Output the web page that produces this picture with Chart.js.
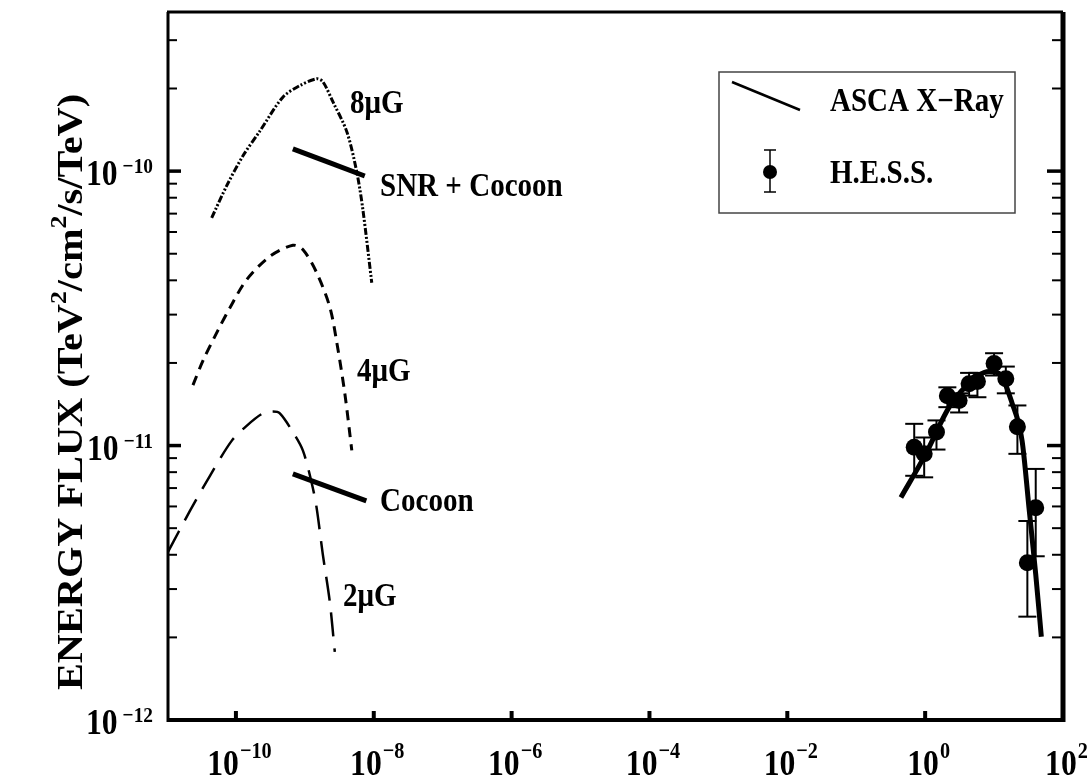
<!DOCTYPE html>
<html>
<head>
<meta charset="utf-8">
<script src="https://cdn.jsdelivr.net/npm/chart.js@4.4.1/dist/chart.umd.min.js"></script>
<style>
    html, body { margin: 0; padding: 0; background: #fff; }
</style>
</head>
<body>
<canvas id="chart-energy-flux" width="1091" height="780"></canvas>
<script>
// synchrotron model curves, energy in TeV, flux in TeV^2/cm^2/s/TeV
const mu8X = [4.45e-11, 7.33e-11, 1.26e-10, 2.23e-10, 4.8e-10, 8.47e-10, 1.48e-9, 1.82e-9, 2.55e-9, 4.07e-9, 5.68e-9, 6.94e-9, 9.35e-9];
const mu8Y = [6.76e-11, 8.83e-11, 1.135e-10, 1.4e-10, 1.86e-10, 2.05e-10, 2.17e-10, 2.12e-10, 1.79e-10, 1.39e-10, 9.9e-11, 7.26e-11, 3.92e-11];

const mu4X = [2.38e-11, 3.36e-11, 5.53e-11, 8.19e-11, 1.43e-10, 3.11e-10, 6.7e-10, 9.35e-10, 1.48e-9, 2.3e-9, 2.91e-9, 3.8e-9, 4.8e-9];
const mu4Y = [1.66e-11, 2.05e-11, 2.64e-11, 3.18e-11, 4.02e-11, 4.89e-11, 5.37e-11, 5.18e-11, 4.27e-11, 3.2e-11, 2.37e-11, 1.55e-11, 9.6e-12];

const mu2X = [1.03e-11, 2.15e-11, 4.2e-11, 8.67e-11, 1.43e-10, 2.46e-10, 3.44e-10, 4.34e-10, 6.7e-10, 9.35e-10, 1.25e-9, 1.48e-9, 1.82e-9, 2.3e-9, 2.72e-9];
const mu2Y = [4.09e-12, 5.78e-12, 7.76e-12, 1.04e-11, 1.18e-11, 1.31e-11, 1.33e-11, 1.31e-11, 1.12e-11, 9.6e-12, 7.35e-12, 5.94e-12, 4.02e-12, 2.7e-12, 1.77e-12];

// ASCA X-ray spectra
const snrCocoonX = [6.7e-10, 7.4e-9];
const snrCocoonY = [1.205e-10, 9.6e-11];
const cocoonX = [6.7e-10, 7.8e-9];
const cocoonY = [7.88e-12, 6.29e-12];

// H.E.S.S. points and fit
const hessX = [0.694, 0.968, 1.46, 2.10, 3.11, 4.34, 5.73, 10.0, 14.8, 21.8, 30.4, 40.2];
const hessY = [9.86e-12, 9.33e-12, 1.12e-11, 1.52e-11, 1.46e-11, 1.68e-11, 1.71e-11, 1.99e-11, 1.75e-11, 1.17e-11, 3.74e-12, 5.94e-12];
const hessLo = [7.76e-12, 7.66e-12, 9.67e-12, 1.38e-11, 1.32e-11, 1.52e-11, 1.5e-11, 1.8e-11, 1.55e-11, 9.33e-12, 2.38e-12, 3.95e-12];
const hessHi = [1.2e-11, 1.07e-11, 1.235e-11, 1.63e-11, 1.55e-11, 1.84e-11, 1.84e-11, 2.17e-11, 1.94e-11, 1.4e-11, 5.31e-12, 8.22e-12];

const fitX = [0.445, 1.02, 2.23, 3.89, 8.47, 11.8, 18.2, 25.5, 32.1, 40.2, 48.5];
const fitY = [6.47e-12, 9.33e-12, 1.38e-11, 1.64e-11, 1.86e-11, 1.83e-11, 1.43e-11, 1.04e-11, 5.94e-12, 3.4e-12, 2.01e-12];

// axes
const xTickExps = [-10, -8, -6, -4, -2, 0, 2];
const yTickExps = [-12, -11, -10];
const yMinor = [2, 3, 4, 5, 6, 7, 8, 9];

const SERIF = "'Liberation Serif', 'DejaVu Serif', serif";
const SQUEEZE = 0.88;

const toPoints = (xs, ys) => xs.map((x, i) => ({x: x, y: ys[i]}));

function measure(ctx, text, size) {
    ctx.font = 'bold ' + size + 'px ' + SERIF;
    return ctx.measureText(text).width * SQUEEZE;
}

function squeezed(ctx, text, left, baseline, size) {
    ctx.save();
    ctx.font = 'bold ' + size + 'px ' + SERIF;
    ctx.textAlign = 'left';
    ctx.textBaseline = 'alphabetic';
    ctx.translate(left, baseline);
    ctx.scale(SQUEEZE, 1);
    ctx.fillText(text, 0, 0);
    ctx.restore();
}

function line(ctx, x1, y1, x2, y2, w) {
    ctx.lineWidth = w;
    ctx.beginPath();
    ctx.moveTo(x1, y1);
    ctx.lineTo(x2, y2);
    ctx.stroke();
}

const supText = (e) => (e < 0 ? '\u2212' + (-e) : String(e));

const decorations = {
    id: 'decorations',
    beforeDatasetsDraw(chart) {
        const {ctx, scales: {x, y}} = chart;
        ctx.save();
        ctx.strokeStyle = '#000';
        hessX.forEach((v, i) => {
            let px = x.getPixelForValue(v);
            let top = y.getPixelForValue(hessHi[i]);
            let bot = y.getPixelForValue(hessLo[i]);
            line(ctx, px, top, px, bot, 2);
            line(ctx, px - 9, top, px + 9, top, 2);
            line(ctx, px - 9, bot, px + 9, bot, 2);
        });
        ctx.restore();
    },
    afterDraw(chart) {
        const {ctx, chartArea: a, scales: {x, y}} = chart;
        ctx.save();
        ctx.strokeStyle = '#000';
        ctx.fillStyle = '#000';

        // frame
        line(ctx, a.left + 1, a.top, a.left + 1, a.bottom + 2, 3);
        line(ctx, a.left, a.bottom, a.right + 2, a.bottom, 4);
        line(ctx, a.right, a.top, a.right, a.bottom + 2, 5);
        line(ctx, a.left, a.top, a.right, a.top, 3);

        // y ticks, both sides
        yTickExps.forEach(e => {
            let major = Math.pow(10, e);
            let py = y.getPixelForValue(major);
            line(ctx, a.left, py, a.left + 14, py, 3.5);
            line(ctx, a.right, py, a.right - 16, py, 3.5);
            yMinor.forEach(m => {
                let v = m * major;
                if (v >= y.max) {
                    return;
                }
                let pm = y.getPixelForValue(v);
                line(ctx, a.left, pm, a.left + 10, pm, 2);
                line(ctx, a.right, pm, a.right - 11, pm, 2);
            });

            let sup = supText(e);
            let wSup = measure(ctx, sup, 22);
            let supLeft = 153 - wSup;
            squeezed(ctx, sup, supLeft, py + 2, 22);
            let w10 = measure(ctx, '10', 36);
            squeezed(ctx, '10', supLeft - 5 - w10, py + 14, 36);
        });

        // x ticks, bottom only
        xTickExps.forEach(e => {
            let px = x.getPixelForValue(Math.pow(10, e));
            line(ctx, px, a.bottom, px, a.bottom - 9, 4);

            let sup = supText(e);
            let w10 = measure(ctx, '10', 36);
            let wSup = measure(ctx, sup, 23);
            let left = px + 3 - (w10 + wSup) / 2;
            squeezed(ctx, '10', left, 775, 36);
            squeezed(ctx, sup, left + w10 + 1, 758, 23);
        });

        // y axis title with superscripts
        ctx.save();
        ctx.translate(82, 392);
        ctx.rotate(-Math.PI / 2);
        ctx.scale(1.12, 1);
        let parts = [['ENERGY FLUX (TeV', 36, 0], ['2', 23, -16], ['/cm', 36, 0], ['2', 23, -16], ['/s/TeV)', 36, 0]];
        let total = 0;
        parts.forEach(p => {
            ctx.font = 'bold ' + p[1] + 'px ' + SERIF;
            total += ctx.measureText(p[0]).width;
        });
        let cx = -total / 2;
        parts.forEach(p => {
            ctx.font = 'bold ' + p[1] + 'px ' + SERIF;
            ctx.fillText(p[0], cx, p[2]);
            cx += ctx.measureText(p[0]).width;
        });
        ctx.restore();

        // curve labels
        squeezed(ctx, '8\u03bcG', 350, 113, 33);
        squeezed(ctx, 'SNR + Cocoon', 380, 196, 33);
        squeezed(ctx, '4\u03bcG', 357, 381, 33);
        squeezed(ctx, 'Cocoon', 380, 511, 33);
        squeezed(ctx, '2\u03bcG', 343, 606, 33);

        // legend
        ctx.strokeStyle = '#444';
        ctx.lineWidth = 1.5;
        ctx.strokeRect(719, 72, 296, 141);
        ctx.strokeStyle = '#000';
        line(ctx, 732, 82, 800, 110, 2.5);
        squeezed(ctx, 'ASCA X\u2212Ray', 830, 111, 33);
        line(ctx, 770, 150, 770, 192, 1.5);
        line(ctx, 764, 150, 776, 150, 1.5);
        line(ctx, 764, 192, 776, 192, 1.5);
        ctx.beginPath();
        ctx.arc(770, 172, 7, 0, Math.PI * 2);
        ctx.fill();
        squeezed(ctx, 'H.E.S.S.', 830, 183, 33);

        ctx.restore();
    }
};

const curve = (xs, ys, dash, width) => ({
    data: toPoints(xs, ys),
    showLine: true,
    borderColor: '#000',
    borderWidth: width,
    borderDash: dash,
    pointRadius: 0,
    tension: 0.3,
    fill: false,
});

new Chart(document.getElementById('chart-energy-flux'), {
    type: 'scatter',
    data: {
        datasets: [
            curve(mu8X, mu8Y, [7, 2, 2, 2, 2, 2], 3),
            curve(mu4X, mu4Y, [10, 7], 3),
            curve(mu2X, mu2Y, [24, 12], 2.5),
            curve(snrCocoonX, snrCocoonY, [], 5),
            curve(cocoonX, cocoonY, [], 5),
            Object.assign(curve(fitX, fitY, [], 5), {tension: 0, cubicInterpolationMode: 'monotone'}),
            {
                data: toPoints(hessX, hessY),
                pointRadius: 8.5,
                pointBackgroundColor: '#000',
                pointBorderWidth: 0,
                showLine: false,
            },
        ],
    },
    options: {
        responsive: false,
        animation: false,
        events: [],
        layout: {
            padding: {left: 167, right: 28, top: 12, bottom: 60},
        },
        scales: {
            x: {type: 'logarithmic', min: 1e-11, max: 1e2, display: false},
            y: {type: 'logarithmic', min: 1e-12, max: 3.8e-10, display: false},
        },
        plugins: {
            legend: {display: false},
            tooltip: {enabled: false},
        },
    },
    plugins: [decorations],
});
</script>
</body>
</html>
